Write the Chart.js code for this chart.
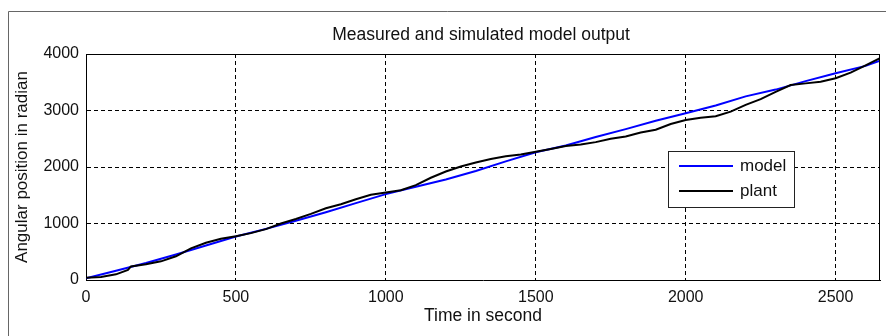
<!DOCTYPE html>
<html lang="en">
<head>
    <meta charset="UTF-8">
    <title>Measured and simulated model output</title>
    <script src="https://cdn.jsdelivr.net/npm/chart.js"></script>
    <style>
        * { box-sizing: border-box; margin: 0; padding: 0; }
        body { background: #fff; width: 886px; height: 336px; overflow: hidden; }
        #plot { display: block; }
    </style>
</head>
<body>
    <canvas id="plot" width="886" height="336"></canvas>
    <script>
        // values
        const modelTime = [0, 100, 200, 300, 400, 500, 600, 700, 800, 900, 1000, 1100, 1200, 1300,
            1400, 1500, 1600, 1700, 1800, 1900, 2000, 2100, 2200, 2300, 2400, 2500, 2600, 2648];
        const modelPos = [30, 165, 300, 450, 610, 770, 905, 1050, 1200, 1360, 1520, 1650, 1780, 1930,
            2100, 2260, 2380, 2530, 2670, 2820, 2950, 3090, 3250, 3370, 3520, 3660, 3790, 3880];

        const plantTime = [0, 50, 100, 140, 150, 200, 250, 300, 350, 400, 450, 500, 550, 600, 650,
            700, 750, 800, 850, 900, 950, 1000, 1050, 1100, 1150, 1200, 1250, 1300, 1350, 1400,
            1450, 1500, 1550, 1600, 1650, 1700, 1750, 1800, 1850, 1900, 1950, 2000, 2050, 2100,
            2150, 2200, 2250, 2300, 2350, 2400, 2450, 2500, 2550, 2600, 2648];
        const plantPos = [40, 55, 100, 180, 240, 280, 330, 420, 560, 660, 730, 775, 830, 900, 1000,
            1080, 1170, 1270, 1340, 1430, 1510, 1550, 1590, 1680, 1810, 1920, 2010, 2080, 2140, 2190,
            2220, 2270, 2320, 2370, 2400, 2440, 2500, 2540, 2610, 2660, 2760, 2830, 2870, 2900,
            2980, 3100, 3200, 3330, 3450, 3480, 3510, 3570, 3670, 3800, 3925];

        const xTicks = [0, 500, 1000, 1500, 2000, 2500];
        const yTicks = [0, 1000, 2000, 3000, 4000];
        const seriesNames = ['model', 'plant'];
        const seriesColors = ['#0000ff', '#000000'];

        const FONT = '"Liberation Sans", Arial, sans-serif';

        // outer figure frame, title, top/right box edges and legend
        const decor = {
            id: 'decor',
            afterDraw(chart) {
                const c = chart.ctx, a = chart.chartArea;
                c.save();
                c.strokeStyle = '#666';
                c.lineWidth = 1;
                c.beginPath();
                c.moveTo(8.5, 336); c.lineTo(8.5, 11.5); c.lineTo(886, 11.5);
                c.stroke();

                c.strokeStyle = '#000';
                c.beginPath();
                c.moveTo(a.left, a.top + 0.5); c.lineTo(a.right - 0.5, a.top + 0.5); c.lineTo(a.right - 0.5, a.bottom);
                c.stroke();

                c.fillStyle = '#111';
                c.font = '17.5px ' + FONT;
                c.textAlign = 'center';
                c.textBaseline = 'middle';
                c.fillText('Measured and simulated model output', 481, 35);

                // legend
                const lx = 668, ly = 151, lw = 126, lh = 56;
                c.fillStyle = '#fff';
                c.fillRect(lx, ly, lw, lh);
                c.strokeStyle = '#222';
                c.strokeRect(lx + 0.5, ly + 0.5, lw, lh);
                c.font = '17px ' + FONT;
                c.textAlign = 'left';
                seriesNames.forEach((name, i) => {
                    const y = 166 + i * 25;
                    c.strokeStyle = seriesColors[i];
                    c.lineWidth = 2;
                    c.beginPath();
                    c.moveTo(679, y); c.lineTo(733, y);
                    c.stroke();
                    c.fillStyle = '#111';
                    c.fillText(name, 740, y);
                });
                c.restore();
            }
        };

        const gridStyle = {
            color: '#000',
            lineWidth: 1,
            drawTicks: false,
            tickLength: 0
        };

        new Chart(document.getElementById('plot'), {
            type: 'line',
            data: {
                datasets: [
                    {
                        label: seriesNames[0],
                        data: modelTime.map((t, i) => ({ x: t, y: modelPos[i] })),
                        borderColor: seriesColors[0],
                        borderWidth: 2,
                        pointRadius: 0,
                        tension: 0,
                        order: 1
                    },
                    {
                        label: seriesNames[1],
                        data: plantTime.map((t, i) => ({ x: t, y: plantPos[i] })),
                        borderColor: seriesColors[1],
                        borderWidth: 2,
                        pointRadius: 0,
                        tension: 0,
                        order: 0
                    }
                ]
            },
            options: {
                responsive: false,
                animation: false,
                devicePixelRatio: 1,
                layout: { padding: { top: 54, right: 6, left: 0, bottom: 0 } },
                plugins: { legend: { display: false }, tooltip: { enabled: false } },
                scales: {
                    x: {
                        type: 'linear',
                        min: 0,
                        max: 2648,
                        afterBuildTicks: s => { s.ticks = xTicks.map(v => ({ value: v })); },
                        afterFit: s => { s.height = 56; },
                        ticks: {
                            color: '#111',
                            font: { family: FONT, size: 16 },
                            padding: 8,
                            maxRotation: 0,
                            callback: v => String(v)
                        },
                        grid: gridStyle,
                        border: { display: true, color: '#000', width: 1, dash: [4, 3] },
                        title: {
                            display: true,
                            text: 'Time in second',
                            color: '#111',
                            font: { family: FONT, size: 17.5 },
                            padding: { top: 0, bottom: 9 }
                        }
                    },
                    y: {
                        min: 0,
                        max: 4000,
                        afterBuildTicks: s => { s.ticks = yTicks.map(v => ({ value: v })); },
                        afterFit: s => { s.width = 86; },
                        ticks: {
                            color: '#111',
                            font: { family: FONT, size: 16 },
                            padding: 7,
                            callback: v => String(v)
                        },
                        grid: gridStyle,
                        border: { display: true, color: '#000', width: 1, dash: [4, 3] },
                        title: {
                            display: true,
                            text: 'Angular position in radian',
                            color: '#111',
                            font: { family: FONT, size: 17 },
                            padding: { top: 12, bottom: 0 }
                        }
                    }
                }
            },
            plugins: [decor]
        });
    </script>
</body>
</html>
